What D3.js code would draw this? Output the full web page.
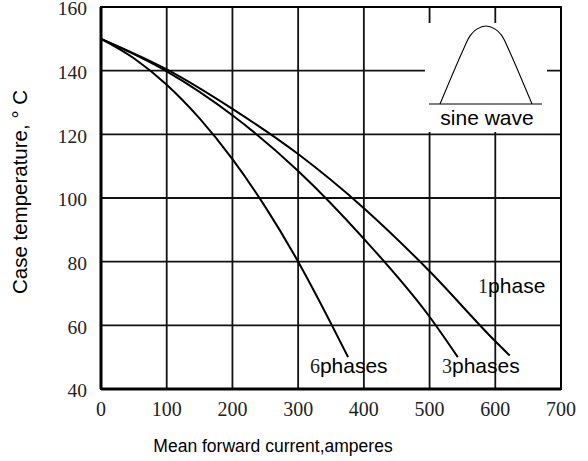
<!DOCTYPE html>
<html>
<head>
<meta charset="utf-8">
<script src="https://cdn.jsdelivr.net/npm/d3@7"></script>
<style>
  body { margin: 0; background: #fff; }
  svg { display: block; }
</style>
</head>
<body>
<div id="chart"></div>
<script>
/* DATA */
const xTicks = [0, 100, 200, 300, 400, 500, 600, 700];
const yTicks = [40, 60, 80, 100, 120, 140, 160];

// mean forward current (A) vs case temperature (C)
const phase1Current = [0, 100, 200, 300, 400, 500, 600, 622];
const phase1Temp = [150, 140.4, 128, 113.8, 96.8, 77, 55, 50.5];
const phase3Current = [0, 100, 200, 300, 400, 500, 543];
const phase3Temp = [150, 139.8, 126, 108.5, 87.2, 62.7, 50];
const phase6Current = [0, 50, 100, 150, 200, 250, 300, 350, 376];
const phase6Temp = [150, 143.9, 135.6, 125, 112.2, 97.2, 80, 60.6, 50];

const seriesLabels = [
  { num: "1", word: "phase", current: 625, temp: 70.3 },
  { num: "6", word: "phases", current: 377, temp: 45 },
  { num: "3", word: "phases", current: 578, temp: 45 }
];

// waveform icon outline, unit coordinates
const waveX = [0, 0.25, 0.33, 0.4, 0.5, 0.6, 0.67, 0.75, 1];
const waveY = [0, 0.69, 0.88, 0.96, 1, 0.96, 0.88, 0.69, 0];

/* CONSTANTS */
const width = 588,
  height = 461,
  margin = { top: 7, right: 27, bottom: 72, left: 101 };

const serif = "'Liberation Serif', 'Times New Roman', serif";
const sans = "'Liberation Sans', Arial, sans-serif";

const svg = d3.select("#chart")
  .append("svg")
  .attr("width", width)
  .attr("height", height);

const xScale = d3.scaleLinear()
  .domain([0, 700])
  .range([margin.left, width - margin.right]);

const yScale = d3.scaleLinear()
  .domain([40, 160])
  .range([height - margin.bottom, margin.top]);

// grid
svg.append("g")
  .selectAll("line")
  .data(xTicks)
  .join("line")
  .attr("x1", d => xScale(d))
  .attr("x2", d => xScale(d))
  .attr("y1", yScale(160))
  .attr("y2", yScale(40))
  .attr("stroke", "#111")
  .attr("stroke-width", 1.8);

svg.append("g")
  .selectAll("line")
  .data(yTicks)
  .join("line")
  .attr("x1", xScale(0))
  .attr("x2", xScale(700))
  .attr("y1", d => yScale(d))
  .attr("y2", d => yScale(d))
  .attr("stroke", "#111")
  .attr("stroke-width", 1.8);

// inset box for the waveform (covers the grid)
const inset = { x0: 425, x1: 547, y0: 23, y1: 132 };
svg.append("rect")
  .attr("x", inset.x0)
  .attr("y", inset.y0)
  .attr("width", inset.x1 - inset.x0)
  .attr("height", inset.y1 - inset.y0)
  .attr("fill", "#fff");

// outer frame
svg.append("rect")
  .attr("x", xScale(0))
  .attr("y", yScale(160))
  .attr("width", xScale(700) - xScale(0))
  .attr("height", yScale(40) - yScale(160))
  .attr("fill", "none")
  .attr("stroke", "#000")
  .attr("stroke-width", 2);

svg.append("line")
  .attr("x1", xScale(0)).attr("x2", xScale(0))
  .attr("y1", yScale(160)).attr("y2", yScale(40))
  .attr("stroke", "#000").attr("stroke-width", 3);
svg.append("line")
  .attr("x1", xScale(0)).attr("x2", xScale(700))
  .attr("y1", yScale(40)).attr("y2", yScale(40))
  .attr("stroke", "#000").attr("stroke-width", 3);

// curves
const line = d3.line()
  .x(d => xScale(d[0]))
  .y(d => yScale(d[1]))
  .curve(d3.curveMonotoneX);

const curves = [
  d3.zip(phase1Current, phase1Temp),
  d3.zip(phase3Current, phase3Temp),
  d3.zip(phase6Current, phase6Temp)
];

svg.append("g")
  .selectAll("path")
  .data(curves)
  .join("path")
  .attr("d", line)
  .attr("fill", "none")
  .attr("stroke", "#000")
  .attr("stroke-width", 2);

// series labels
const lbl = svg.append("g")
  .selectAll("text")
  .data(seriesLabels)
  .join("text")
  .attr("x", d => xScale(d.current))
  .attr("y", d => yScale(d.temp))
  .attr("text-anchor", "middle")
  .attr("fill", "#000");
lbl.append("tspan")
  .style("font", `20px ${serif}`)
  .style("fill", "#222")
  .text(d => d.num);
lbl.append("tspan")
  .style("font", `21px ${sans}`)
  .text(d => d.word);

// sine wave icon
const wx = d3.scaleLinear().domain([0, 1]).range([440, 532]);
const wy = d3.scaleLinear().domain([0, 1]).range([104, 26]);

svg.append("line")
  .attr("x1", 429).attr("x2", 542)
  .attr("y1", 104).attr("y2", 104)
  .attr("stroke", "#555").attr("stroke-width", 1.5);

svg.append("path")
  .attr("d", d3.line()
    .x(d => wx(d[0]))
    .y(d => wy(d[1]))
    .curve(d3.curveCatmullRom)(d3.zip(waveX, waveY)))
  .attr("fill", "none")
  .attr("stroke", "#000")
  .attr("stroke-width", 1.1);

svg.append("text")
  .attr("x", 487)
  .attr("y", 125)
  .attr("text-anchor", "middle")
  .style("font", `21px ${sans}`)
  .text("sine wave");

// tick labels
svg.append("g")
  .selectAll("text")
  .data(xTicks)
  .join("text")
  .attr("x", d => xScale(d))
  .attr("y", 416)
  .attr("text-anchor", "middle")
  .style("font", `20px ${serif}`)
  .style("fill", "#222")
  .text(d => d);

svg.append("g")
  .selectAll("text")
  .data(yTicks)
  .join("text")
  .attr("x", 87)
  .attr("y", d => yScale(d))
  .attr("dy", "0.42em")
  .attr("text-anchor", "end")
  .style("font", `19.5px ${serif}`)
  .style("fill", "#222")
  .text(d => d);

// axis titles
svg.append("text")
  .attr("x", 273)
  .attr("y", 452)
  .attr("text-anchor", "middle")
  .style("font", `17.5px ${sans}`)
  .text("Mean forward current,amperes");

svg.append("text")
  .attr("transform", "translate(27,192) rotate(-90)")
  .attr("text-anchor", "middle")
  .style("font", `20.5px ${sans}`)
  .text("Case temperature, \u00b0 C");
</script>
</body>
</html>
